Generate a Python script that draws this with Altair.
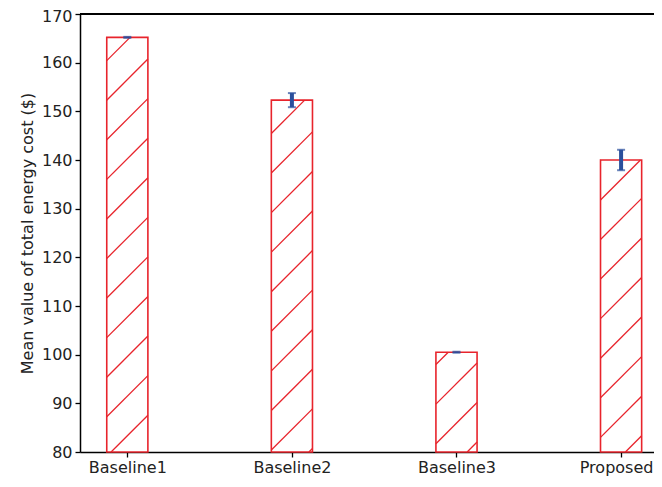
import math
import altair as alt
import pandas as pd

# ---- data ----
categories = ["Baseline1", "Baseline2", "Baseline3", "Proposed"]
means = [165.2, 152.3, 100.5, 140.0]
errors = [0.1, 1.45, 0.1, 2.1]

positions = list(range(len(categories)))
y_ticks = [80, 90, 100, 110, 120, 130, 140, 150, 160, 170]

# ---- style / geometry constants ----
BAR_W = 0.25
Y0, Y1 = 80, 170
X_DOMAIN = [-0.2875, 3.2]
W, H = 574, 438
RED = "#e8242c"
BLUE = "#2a4f9c"
HATCH_SLOPE = 33.82   # y-units per x-unit (45 degrees on screen)
HATCH_STEP = 8.13     # vertical spacing of hatch lines in y-units
HATCH_PHASE = 75.21

bars = pd.DataFrame({"cat": categories, "pos": positions, "mean": means, "err": errors})
bars["left"] = bars["pos"] - BAR_W / 2
bars["right"] = bars["pos"] + BAR_W / 2
bars["lo"] = bars["mean"] - bars["err"]
bars["hi"] = bars["mean"] + bars["err"]
bars["base"] = Y0

rows = []
for p, top in zip(positions, means):
    L, R = p - BAR_W / 2, p + BAR_W / 2
    bmin = Y0 - HATCH_SLOPE * R
    bmax = top - HATCH_SLOPE * L
    k0 = math.ceil((bmin - HATCH_PHASE) / HATCH_STEP)
    k1 = math.floor((bmax - HATCH_PHASE) / HATCH_STEP)
    for k in range(k0, k1 + 1):
        b = HATCH_PHASE + k * HATCH_STEP
        u1 = max(L, (Y0 - b) / HATCH_SLOPE)
        u2 = min(R, (top - b) / HATCH_SLOPE)
        if u2 > u1:
            rows.append({"x": u1, "y": b + HATCH_SLOPE * u1,
                         "x2": u2, "y2": b + HATCH_SLOPE * u2})
hatch = pd.DataFrame(rows)

label_expr = "[" + ",".join("'%s'" % c for c in categories) + "][datum.value]"
last_pos = positions[-1]

xscale = alt.Scale(domain=X_DOMAIN, nice=False, zero=False)
yscale = alt.Scale(domain=[Y0, Y1], nice=False, zero=False)

xaxis = alt.Axis(values=positions, labelExpr=label_expr, title=None,
                 labelPadding=2, domainWidth=1.5,
                 labelOffset={"condition": {"test": "datum.value == %d" % last_pos, "value": -5},
                              "value": 0})
yaxis = alt.Axis(values=y_ticks, title="Mean value of total energy cost ($)",
                 titlePadding=6, titleFontSize=16, titleFont="DejaVu Sans",
                 titleFontWeight="normal", titleColor="#222222",
                 labelPadding=3, domainWidth=1.5,
                 labelOffset={"condition": {"test": "datum.value == %d" % Y1, "value": 2},
                              "value": 0})

base = alt.Chart(bars)

fill = base.mark_bar(fill="white", stroke=None).encode(
    x=alt.X("left:Q", scale=xscale, axis=xaxis),
    x2="right:Q",
    y=alt.Y("mean:Q", scale=yscale, axis=yaxis),
    y2="base:Q",
)

hatch_lines = alt.Chart(hatch).mark_rule(color=RED, strokeWidth=1.3).encode(
    x=alt.X("x:Q", scale=xscale), x2="x2:Q",
    y=alt.Y("y:Q", scale=yscale), y2="y2:Q",
)

outline = base.mark_bar(fill=None, fillOpacity=0, stroke=RED, strokeWidth=1.6).encode(
    x=alt.X("left:Q", scale=xscale), x2="right:Q",
    y=alt.Y("mean:Q", scale=yscale), y2="base:Q",
)

stem = base.mark_rule(color=BLUE, strokeWidth=4).encode(
    x=alt.X("pos:Q", scale=xscale),
    y=alt.Y("lo:Q", scale=yscale), y2="hi:Q",
)
cap_lo = base.mark_tick(color=BLUE, orient="horizontal", size=8, thickness=2).encode(
    x=alt.X("pos:Q", scale=xscale), y=alt.Y("lo:Q", scale=yscale))
cap_hi = base.mark_tick(color=BLUE, orient="horizontal", size=8, thickness=2).encode(
    x=alt.X("pos:Q", scale=xscale), y=alt.Y("hi:Q", scale=yscale))

top_spine = alt.Chart(bars).mark_rule(color="black", strokeWidth=1.5).encode(
    y=alt.datum(Y1, scale=yscale), x=alt.value(0), x2=alt.value(W))

chart = alt.layer(fill, hatch_lines, outline, stem, cap_lo, cap_hi, top_spine).properties(
    width=W, height=H,
    autosize=alt.AutoSizeParams(type="none"),
    padding={"left": 72, "top": 6, "right": 0, "bottom": 24},
).configure_view(stroke=None).configure_axis(
    grid=False, domainColor="black", tickColor="black", tickSize=5, tickWidth=1.3,
    labelFont="DejaVu Sans", labelFontSize=16, labelColor="#222222",
)

chart.save("out.html", embed_options={"renderer": "svg", "actions": False})
